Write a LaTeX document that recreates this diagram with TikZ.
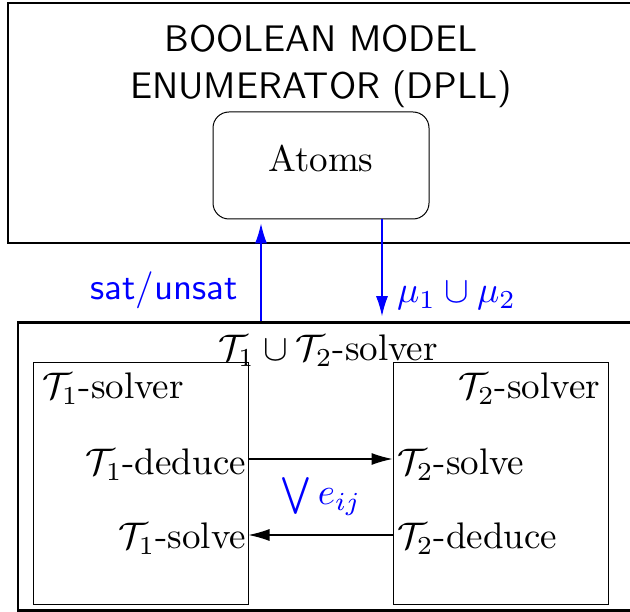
\documentclass[tikz,border=0pt]{standalone}
\usetikzlibrary{arrows.meta}
\tikzset{
  outerbox/.style={draw, line width=2.6pt, inner sep=0pt},
  innerbox/.style={draw, line width=1pt, inner sep=0pt},
  roundbox/.style={draw, line width=1pt, rounded corners=16pt, inner sep=0pt},
  txt/.style={inner sep=0pt, outer sep=0pt, font=\fontsize{10}{12}\selectfont, scale=3.7},
  sftxt/.style={inner sep=0pt, outer sep=0pt, font=\fontsize{10}{12}\selectfont\sffamily, scale=3.7},
  flow/.style={blue, line width=1.2pt, -{Latex[length=20pt,width=12pt]}},
  msg/.style={black, line width=1.1pt, -{Latex[length=21pt,width=12pt]}},
}
\begin{document}
\begin{tikzpicture}[x=1pt, y=-1pt]
\clip (0,0) rectangle (630,612);

% Boolean enumerator
\node[outerbox, minimum width=632pt, minimum height=240pt] (enum) at (324,123) {};
\node[sftxt, anchor=base] (title1) at (321,52) {BOOLEAN MODEL};
\node[sftxt, anchor=base] (title2) at (321,99) {ENUMERATOR (DPLL)};
\node[roundbox, minimum width=216pt, minimum height=107pt] (atoms) at (321,165.5) {};
\node[txt, anchor=base] (atomslbl) at (321,172) {Atoms};

% combined theory solver
\node[outerbox, minimum width=622pt, minimum height=288pt] (comb) at (329,466.5) {};
\node[txt, anchor=base] (combl) at (328,361) {$\mathcal{T}_1\cup\mathcal{T}_2$-solver};

\node[innerbox, minimum width=215pt, minimum height=241pt] (lbox) at (140.5,483.5) {};
\node[innerbox, minimum width=215pt, minimum height=241pt] (rbox) at (500.5,483.5) {};

\node[txt, anchor=base west] (t1solver) at (42,399) {$\mathcal{T}_1$-solver};
\node[txt, anchor=base east] (t2solver) at (600,399) {$\mathcal{T}_2$-solver};
\node[txt, anchor=base east] (t1deduce) at (246,475) {$\mathcal{T}_1$-deduce};
\node[txt, anchor=base west] (t2solve) at (397,475) {$\mathcal{T}_2$-solve};
\node[txt, anchor=base east] (t1solve) at (246,549) {$\mathcal{T}_1$-solve};
\node[txt, anchor=base west] (t2deduce) at (397,549) {$\mathcal{T}_2$-deduce};
\node[txt, anchor=base, text=blue] (eq) at (321,505) {$\bigvee e_{ij}$};

% exchange of equalities
\draw[msg] (lbox.east |- 0,459) -- (rbox.west |- 0,459);
\draw[msg] (rbox.west |- 0,535) -- (lbox.east |- 0,535);

% communication with the enumerator
\draw[flow, shorten >=4pt] (comb.north -| 261,0) -- (atoms.south -| 261,0);
\draw[flow, shorten >=5pt] (atoms.south -| 382,0) -- (comb.north -| 382,0);
\node[sftxt, anchor=base east, text=blue] (satl) at (238,300) {sat/unsat};
\node[txt, anchor=base west, text=blue] (mul) at (397,303) {$\mu_1\cup\mu_2$};
\end{tikzpicture}
\end{document}
